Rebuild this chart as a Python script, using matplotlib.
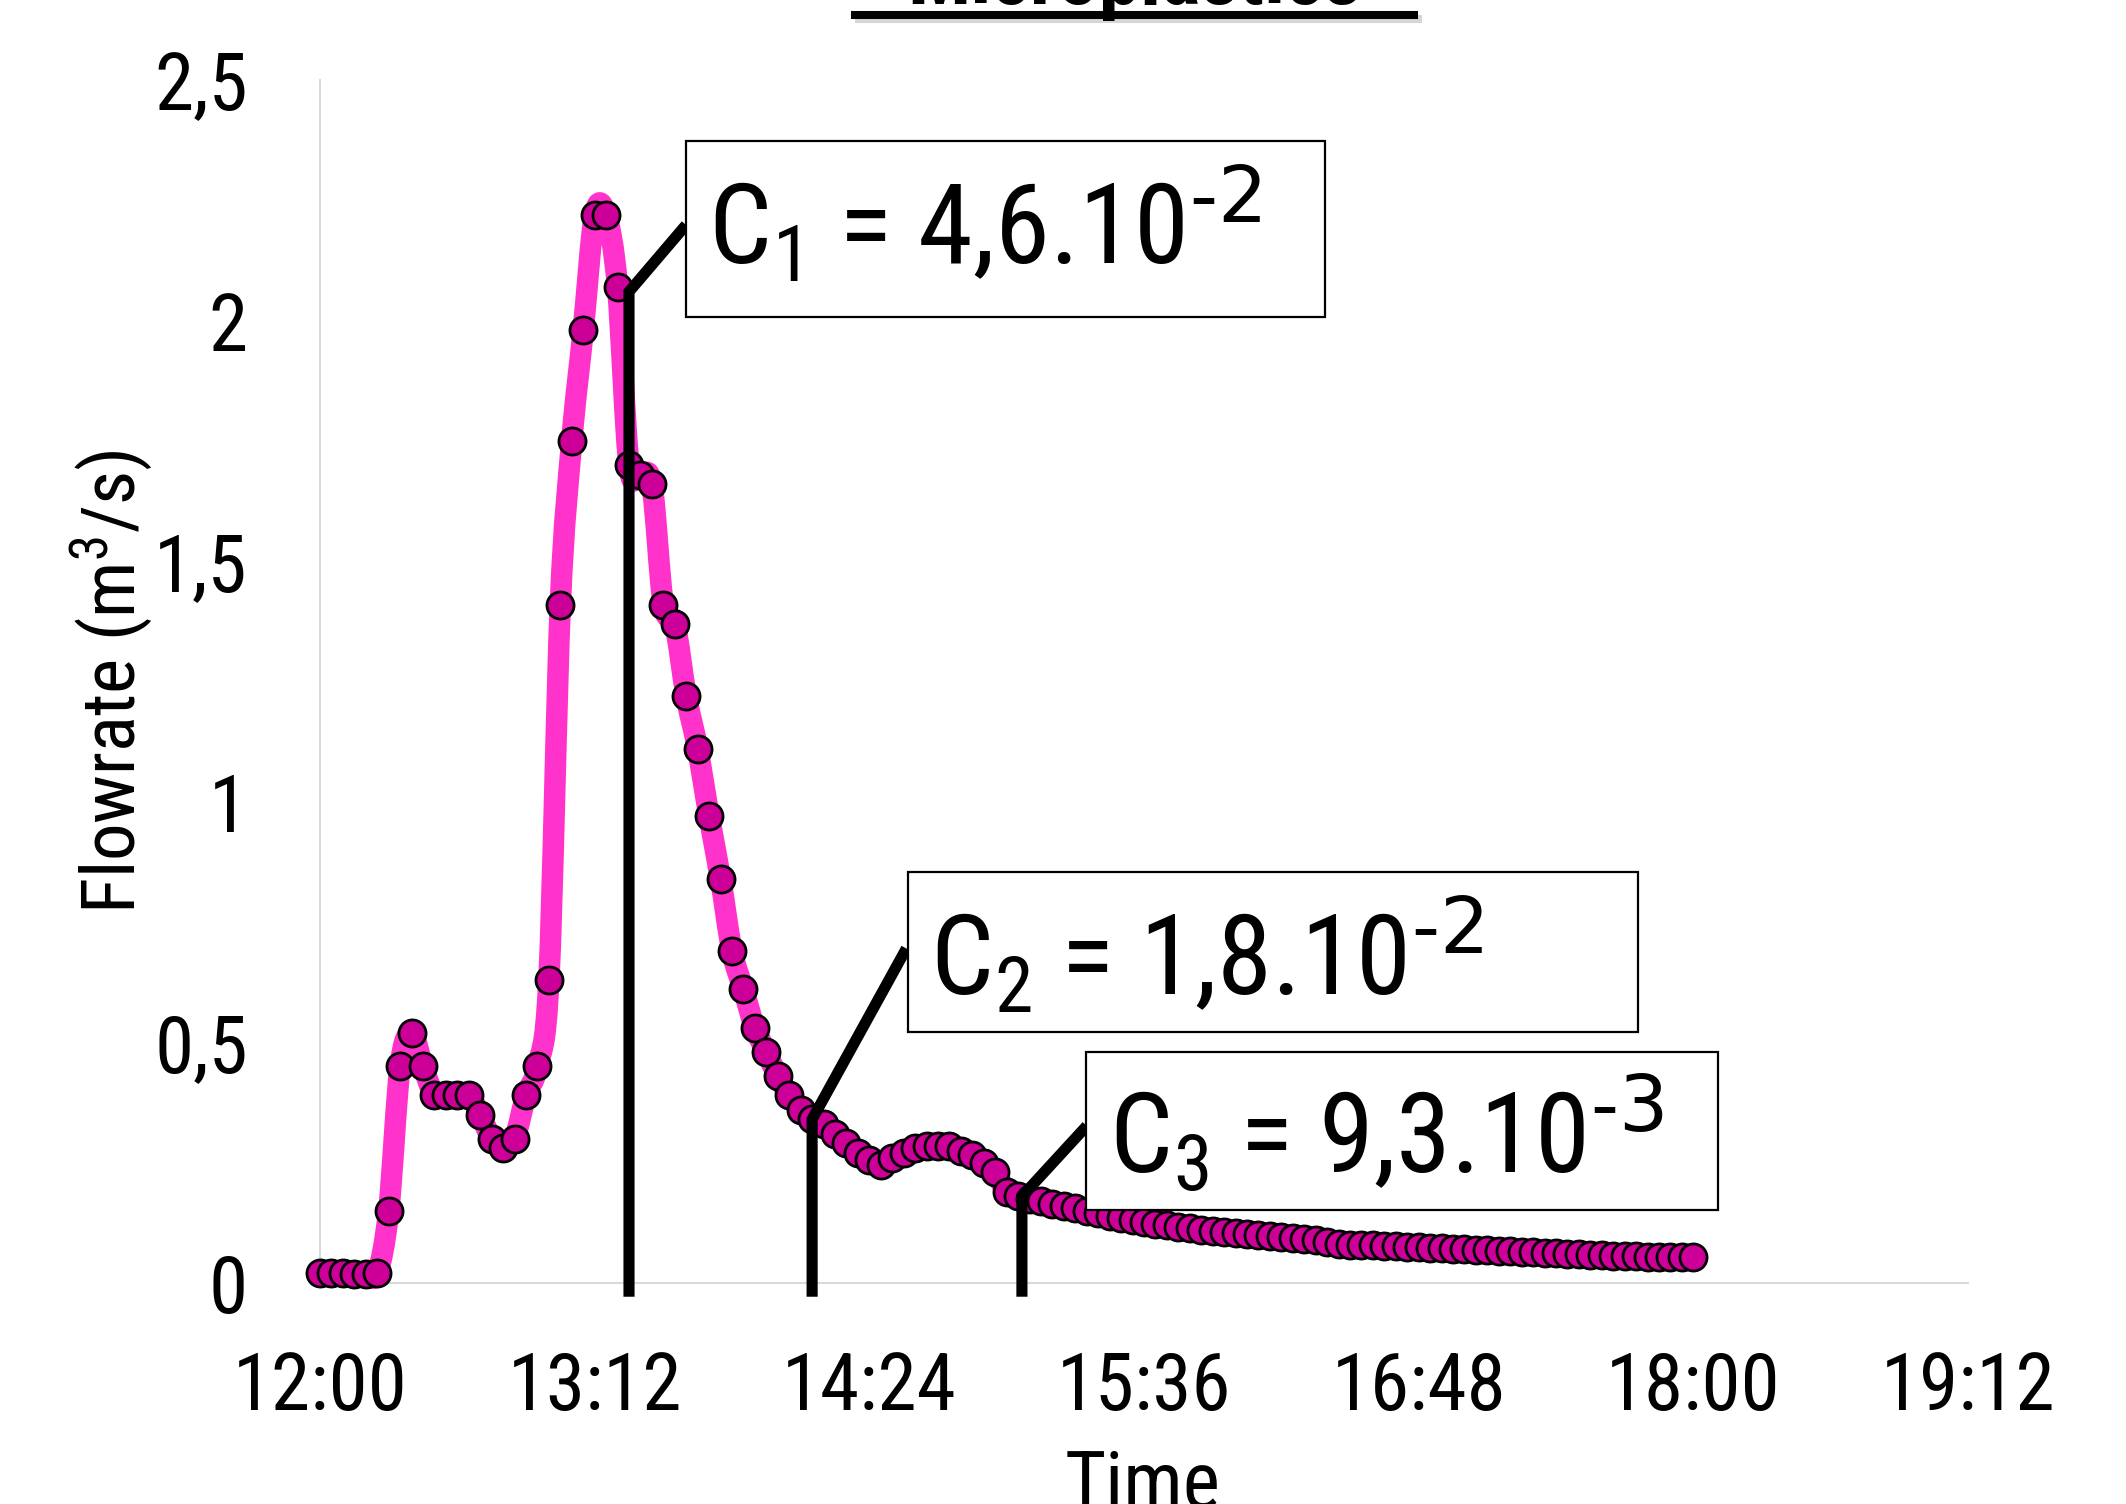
import numpy as np
import matplotlib
matplotlib.use('Agg')
import matplotlib.pyplot as plt
from matplotlib import font_manager
from matplotlib.ticker import FixedLocator, FuncFormatter
from matplotlib.patches import Rectangle, PathPatch
from matplotlib.path import Path
from matplotlib.lines import Line2D

# pick a narrow sans font (the chart uses an Arial Narrow look)
fonts = font_manager.fontManager.ttflist
names = [f.name for f in fonts]
FONT, STRETCH = 'Liberation Sans', 'normal'
for pref in ['Liberation Sans Narrow', 'Arial Narrow', 'Roboto Condensed',
             'DejaVu Sans Condensed', 'Open Sans Condensed']:
    if pref in names:
        FONT = pref
        break
else:
    narrow = [f.name for f in fonts if 'Narrow' in f.name or 'Condensed' in f.name]
    cond = [f.name for f in fonts if f.stretch in ('condensed', 'semi-condensed')
            and 'Mono' not in f.name and 'Serif' not in f.name]
    if narrow:
        FONT = narrow[0]
    elif cond:
        FONT, STRETCH = cond[0], 'condensed'
plt.rcParams['font.family'] = [FONT, 'DejaVu Sans']
plt.rcParams['font.stretch'] = STRETCH
plt.rcParams['mathtext.default'] = 'regular'

## Data: flowrate sampled every 3 minutes from 12:00 to 18:00
START_TIME = '12:00'
STEP_MIN = 3
flow = [0.02, 0.02, 0.02, 0.018, 0.018, 0.02, 0.15, 0.45, 0.52, 0.45,
        0.39, 0.39, 0.39, 0.39, 0.35, 0.30, 0.28, 0.30, 0.39, 0.45,
        0.63, 1.41, 1.75, 1.98, 2.22, 2.22, 2.07, 1.70, 1.68, 1.66,
        1.41, 1.37, 1.22, 1.11, 0.97, 0.84, 0.69, 0.61, 0.53, 0.48,
        0.43, 0.39, 0.36, 0.34, 0.33, 0.31, 0.29, 0.27, 0.255, 0.245,
        0.26, 0.27, 0.28, 0.285, 0.285, 0.285, 0.275, 0.265, 0.25, 0.23,
        0.19, 0.18, 0.175, 0.17, 0.165, 0.16, 0.155, 0.15, 0.145, 0.14,
        0.135, 0.13, 0.127, 0.123, 0.12, 0.117, 0.114, 0.111, 0.108, 0.106,
        0.104, 0.102, 0.10, 0.098, 0.096, 0.094, 0.092, 0.09, 0.085, 0.082,
        0.08, 0.079, 0.078, 0.077, 0.076, 0.075, 0.074, 0.073, 0.072, 0.071,
        0.07, 0.069, 0.068, 0.067, 0.066, 0.065, 0.064, 0.063, 0.062, 0.061,
        0.06, 0.059, 0.058, 0.057, 0.056, 0.056, 0.055, 0.055, 0.054, 0.054,
        0.053]

xticks = ['12:00', '13:12', '14:24', '15:36', '16:48', '18:00', '19:12']
yticks = [0, 0.5, 1, 1.5, 2, 2.5]

# sampling points (C1, C2, C3) and their values
notes = [r'C$_1$ = 4,6.10$^{\text{-2}}$', r'C$_2$ = 1,8.10$^{\text{-2}}$',
         r'C$_3$ = 9,3.10$^{\text{-3}}$']
note_time = ['13:21', '14:09', '15:04']
note_flow = [2.06, 0.34, 0.18]


def to_day(s):
    h, m = s.split(':')
    return int(h) / 24 + int(m) / 1440


def fmt_time(x, pos=None):
    mins = int(round(x * 1440))
    return '{}:{:02d}'.format(mins // 60, mins % 60)


def smooth_path(x, y):
    # spreadsheet-like smoothed line: cubic Bezier through every point
    p = np.column_stack([x, y])
    verts = [p[0]]
    codes = [Path.MOVETO]
    n = len(p)
    for i in range(n - 1):
        p0 = p[i - 1] if i > 0 else p[i]
        p3 = p[i + 2] if i + 2 < n else p[i + 1]
        c1 = p[i] + (p[i + 1] - p0) / 6
        c2 = p[i + 1] - (p3 - p[i]) / 6
        verts += [c1, c2, p[i + 1]]
        codes += [Path.CURVE4] * 3
    return Path(verts, codes)


t0 = to_day(START_TIME)
times = t0 + np.arange(len(flow)) * STEP_MIN / 1440

W, H = 2126, 1504
fig = plt.figure(figsize=(W / 100, H / 100), dpi=100)
ax = fig.add_axes([320 / W, 1 - 1283 / H, 1648 / W, 1203 / H])

ax.add_patch(PathPatch(smooth_path(times, flow), fill=False, edgecolor='#FF33CC',
                       lw=15.5, joinstyle='round', capstyle='round', zorder=2,
                       clip_on=False))
ax.plot(times, flow, 'o', ms=19.5, mfc='#CC0099', mec='black', mew=2,
        zorder=3, clip_on=False)

ax.set_xlim(to_day('12:00'), to_day('19:12'))
ax.set_ylim(0, 2.5)
ax.xaxis.set_major_locator(FixedLocator([to_day(s) for s in xticks]))
ax.xaxis.set_major_formatter(FuncFormatter(fmt_time))
ax.yaxis.set_major_locator(FixedLocator(yticks))
ax.yaxis.set_major_formatter(FuncFormatter(lambda v, p: ('%g' % v).replace('.', ',')))
ax.tick_params(length=0, labelsize=57)
ax.tick_params(axis='y', pad=52)
ax.tick_params(axis='x', pad=48)
for s in ['top', 'right']:
    ax.spines[s].set_visible(False)
for s in ['left', 'bottom']:
    ax.spines[s].set_color('#D9D9D9')
    ax.spines[s].set_linewidth(1.5)

ax.set_ylabel('Flowrate (m$^3$/s)', fontsize=54)
ax.yaxis.set_label_coords(-0.100, 0.5)

# leader lines from the curve to the boxes
leader_end = [(to_day('13:35'), 2.19), (to_day('14:33'), 0.685), (to_day('15:20'), 0.318)]
for tm, fv, (ex, ey) in zip(note_time, note_flow, leader_end):
    x = to_day(tm)
    ax.plot([x, x, ex], [-0.017, fv, ey], color='black', lw=8,
            solid_joinstyle='miter', zorder=4, clip_on=False)

boxes = [(0.222, 0.803, 0.388, 0.146), (0.357, 0.209, 0.443, 0.133), (0.465, 0.061, 0.383, 0.131)]
text_pos = [(0.2354, 0.847), (0.370, 0.240), (0.479, 0.0914)]
for txt, (bx, by, bw, bh), (tx, ty) in zip(notes, boxes, text_pos):
    ax.add_patch(Rectangle((bx, by), bw, bh, transform=ax.transAxes, facecolor='white',
                           edgecolor='black', lw=1.6, zorder=5, clip_on=False))
    ax.text(tx, ty, txt, transform=ax.transAxes, fontsize=80, ha='left',
            va='baseline', zorder=6)

# x label, cut by the bottom of the picture
fig.text(1143 / W, 1 - 1508 / H, 'Time', fontsize=57, ha='center', va='baseline')

# title, cut by the top of the picture
fig.text(1134 / W, 1 - 4 / H, 'Microplastics', fontsize=60, weight='bold',
         ha='center', va='baseline')
fig.add_artist(Line2D([859 / W, 1418 / W], [1 - 19 / H] * 2, color='#BBBBBB',
                      lw=5.8, alpha=0.6))
fig.add_artist(Line2D([855 / W, 1414 / W], [1 - 15 / H] * 2, color='black', lw=5.8))

fig.savefig('out.png', dpi=100)
